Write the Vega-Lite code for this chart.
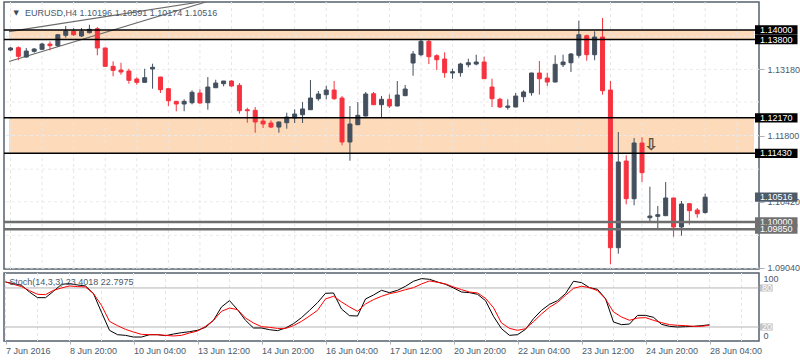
{
  "$schema": "https://vega.github.io/schema/vega-lite/v6.json",
  "background": "white",
  "padding": {"left": 2, "top": 0, "right": 0, "bottom": 0},
  "spacing": 4,
  "bounds": "flush",
  "config": {
    "view": {"stroke": "#56616d", "strokeWidth": 1.5},
    "font": "Liberation Sans",
    "axis": {"labelFont": "Liberation Sans", "labelFontSize": 9, "labelColor": "#4b596a", "domain": false, "grid": false, "tickColor": "#aab2bb", "title": null}
  },
  "datasets": {
    "candles": [
      {"t":0,"o":1.13583,"h":1.13646,"l":1.13562,"c":1.13625},
      {"t":1,"o":1.13631,"h":1.13660,"l":1.13369,"c":1.13452},
      {"t":2,"o":1.13437,"h":1.13625,"l":1.13423,"c":1.13562},
      {"t":3,"o":1.13556,"h":1.13625,"l":1.13527,"c":1.13604},
      {"t":4,"o":1.13598,"h":1.13735,"l":1.13590,"c":1.13708},
      {"t":5,"o":1.13708,"h":1.13764,"l":1.13577,"c":1.13673},
      {"t":6,"o":1.13673,"h":1.13910,"l":1.13646,"c":1.13902},
      {"t":7,"o":1.13890,"h":1.14083,"l":1.13840,"c":1.13979},
      {"t":8,"o":1.13973,"h":1.14042,"l":1.13875,"c":1.13902},
      {"t":9,"o":1.13875,"h":1.14042,"l":1.13854,"c":1.13973},
      {"t":10,"o":1.13944,"h":1.14110,"l":1.13931,"c":1.14015},
      {"t":11,"o":1.14027,"h":1.14063,"l":1.13473,"c":1.13625},
      {"t":12,"o":1.13625,"h":1.13635,"l":1.13230,"c":1.13243},
      {"t":13,"o":1.13243,"h":1.13348,"l":1.13035,"c":1.13160},
      {"t":14,"o":1.13166,"h":1.13318,"l":1.13068,"c":1.13125},
      {"t":15,"o":1.13145,"h":1.13193,"l":1.12881,"c":1.12952},
      {"t":16,"o":1.12979,"h":1.13014,"l":1.12860,"c":1.12910},
      {"t":17,"o":1.12910,"h":1.13193,"l":1.12905,"c":1.13006},
      {"t":18,"o":1.13187,"h":1.13298,"l":1.12777,"c":1.13223},
      {"t":19,"o":1.13020,"h":1.13025,"l":1.12687,"c":1.12756},
      {"t":20,"o":1.12777,"h":1.12780,"l":1.12416,"c":1.12526},
      {"t":21,"o":1.12514,"h":1.12520,"l":1.12306,"c":1.12458},
      {"t":22,"o":1.12458,"h":1.12556,"l":1.12306,"c":1.12514},
      {"t":23,"o":1.12485,"h":1.12743,"l":1.12451,"c":1.12702},
      {"t":24,"o":1.12687,"h":1.12764,"l":1.12464,"c":1.12479},
      {"t":25,"o":1.12485,"h":1.13020,"l":1.12339,"c":1.12812},
      {"t":26,"o":1.12797,"h":1.12964,"l":1.12795,"c":1.12895},
      {"t":27,"o":1.12881,"h":1.12940,"l":1.12827,"c":1.12937},
      {"t":28,"o":1.12937,"h":1.12952,"l":1.12818,"c":1.12833},
      {"t":29,"o":1.12847,"h":1.12895,"l":1.12256,"c":1.12318},
      {"t":30,"o":1.12339,"h":1.12381,"l":1.12068,"c":1.12318},
      {"t":31,"o":1.12326,"h":1.12395,"l":1.11860,"c":1.12083},
      {"t":32,"o":1.12103,"h":1.12166,"l":1.11958,"c":1.12041},
      {"t":33,"o":1.12062,"h":1.12118,"l":1.11958,"c":1.11978},
      {"t":34,"o":1.11978,"h":1.12090,"l":1.11860,"c":1.12083},
      {"t":35,"o":1.12068,"h":1.12276,"l":1.11943,"c":1.12187},
      {"t":36,"o":1.12166,"h":1.12347,"l":1.12062,"c":1.12249},
      {"t":37,"o":1.12235,"h":1.12499,"l":1.12062,"c":1.12354},
      {"t":38,"o":1.12339,"h":1.12958,"l":1.12335,"c":1.12583},
      {"t":39,"o":1.12568,"h":1.12729,"l":1.12526,"c":1.12666},
      {"t":40,"o":1.12652,"h":1.12839,"l":1.12556,"c":1.12749},
      {"t":41,"o":1.12749,"h":1.12937,"l":1.12547,"c":1.12568},
      {"t":42,"o":1.12583,"h":1.12624,"l":1.11597,"c":1.11666},
      {"t":43,"o":1.11666,"h":1.12416,"l":1.11276,"c":1.12041},
      {"t":44,"o":1.12026,"h":1.12499,"l":1.12020,"c":1.12222},
      {"t":45,"o":1.12208,"h":1.12708,"l":1.12200,"c":1.12666},
      {"t":46,"o":1.12672,"h":1.12708,"l":1.12438,"c":1.12443},
      {"t":47,"o":1.12443,"h":1.12624,"l":1.12187,"c":1.12556},
      {"t":48,"o":1.12556,"h":1.12660,"l":1.12374,"c":1.12416},
      {"t":49,"o":1.12416,"h":1.12937,"l":1.12410,"c":1.12645},
      {"t":50,"o":1.12631,"h":1.12854,"l":1.12625,"c":1.12770},
      {"t":51,"o":1.13312,"h":1.13562,"l":1.13048,"c":1.13500},
      {"t":52,"o":1.13485,"h":1.13792,"l":1.13452,"c":1.13764},
      {"t":53,"o":1.13764,"h":1.13792,"l":1.13291,"c":1.13444},
      {"t":54,"o":1.13464,"h":1.13494,"l":1.13166,"c":1.13381},
      {"t":55,"o":1.13396,"h":1.13535,"l":1.13006,"c":1.13110},
      {"t":56,"o":1.13104,"h":1.13193,"l":1.12985,"c":1.13131},
      {"t":57,"o":1.13110,"h":1.13318,"l":1.13027,"c":1.13291},
      {"t":58,"o":1.13277,"h":1.13402,"l":1.13223,"c":1.13318},
      {"t":59,"o":1.13291,"h":1.13485,"l":1.13264,"c":1.13333},
      {"t":60,"o":1.13333,"h":1.13444,"l":1.12980,"c":1.12985},
      {"t":61,"o":1.12812,"h":1.12985,"l":1.12395,"c":1.12568},
      {"t":62,"o":1.12556,"h":1.12589,"l":1.12374,"c":1.12395},
      {"t":63,"o":1.12389,"h":1.12556,"l":1.12339,"c":1.12416},
      {"t":64,"o":1.12395,"h":1.12687,"l":1.12390,"c":1.12624},
      {"t":65,"o":1.12610,"h":1.12743,"l":1.12499,"c":1.12708},
      {"t":66,"o":1.12693,"h":1.13110,"l":1.12631,"c":1.13104},
      {"t":67,"o":1.13104,"h":1.13354,"l":1.12652,"c":1.12985},
      {"t":68,"o":1.12999,"h":1.13110,"l":1.12833,"c":1.12916},
      {"t":69,"o":1.12916,"h":1.13473,"l":1.12910,"c":1.13285},
      {"t":70,"o":1.13277,"h":1.13485,"l":1.13229,"c":1.13333},
      {"t":71,"o":1.13318,"h":1.13521,"l":1.13125,"c":1.13500},
      {"t":72,"o":1.13473,"h":1.14194,"l":1.13423,"c":1.13902},
      {"t":73,"o":1.13881,"h":1.13902,"l":1.13360,"c":1.13485},
      {"t":74,"o":1.13485,"h":1.13973,"l":1.13369,"c":1.13854},
      {"t":75,"o":1.13854,"h":1.14250,"l":1.12652,"c":1.12735},
      {"t":76,"o":1.12749,"h":1.12937,"l":1.09117,"c":1.09463},
      {"t":77,"o":1.09463,"h":1.11874,"l":1.09338,"c":1.11249},
      {"t":78,"o":1.11270,"h":1.11389,"l":1.10367,"c":1.10484},
      {"t":79,"o":1.10484,"h":1.11749,"l":1.10346,"c":1.11645},
      {"t":80,"o":1.11645,"h":1.11764,"l":1.10832,"c":1.11026},
      {"t":81,"o":1.10088,"h":1.10734,"l":1.10019,"c":1.10123},
      {"t":82,"o":1.10117,"h":1.10332,"l":1.09846,"c":1.10151},
      {"t":83,"o":1.10130,"h":1.10832,"l":1.10125,"c":1.10499},
      {"t":84,"o":1.10499,"h":1.10505,"l":1.09692,"c":1.09894},
      {"t":85,"o":1.09894,"h":1.10436,"l":1.09713,"c":1.10374},
      {"t":86,"o":1.10380,"h":1.10394,"l":1.09942,"c":1.10234},
      {"t":87,"o":1.10248,"h":1.10290,"l":1.10088,"c":1.10171},
      {"t":88,"o":1.10196,"h":1.10591,"l":1.10174,"c":1.10516}
    ],
    "stoch": [
      {"t":0,"k":89.2,"d":89.2},{"t":1,"k":86.7,"d":85.6},{"t":2,"k":84.1,"d":82.1},{"t":3,"k":73.8,"d":75.9},
      {"t":4,"k":65.1,"d":70.3},{"t":5,"k":65.1,"d":69.7},{"t":6,"k":74.9,"d":76.4},{"t":7,"k":85.6,"d":80.0},
      {"t":8,"k":86.7,"d":83.1},{"t":9,"k":84.6,"d":82.1},{"t":10,"k":83.1,"d":81.5},{"t":11,"k":71.3,"d":71.3},
      {"t":12,"k":42.6,"d":53.3},{"t":13,"k":14.9,"d":28.7},{"t":14,"k":8.2,"d":22.1},{"t":15,"k":7.2,"d":16.4},
      {"t":16,"k":4.6,"d":12.3},{"t":17,"k":4.6,"d":8.7},{"t":18,"k":8.2,"d":8.2},{"t":19,"k":8.2,"d":8.2},
      {"t":20,"k":6.7,"d":7.2},{"t":21,"k":9.2,"d":6.2},{"t":22,"k":11.3,"d":7.2},{"t":23,"k":12.8,"d":10.8},
      {"t":24,"k":14.9,"d":13.8},{"t":25,"k":19.5,"d":21.0},{"t":26,"k":30.3,"d":30.3},{"t":27,"k":50.8,"d":44.1},
      {"t":28,"k":60.5,"d":49.2},{"t":29,"k":46.7,"d":46.7},{"t":30,"k":30.3,"d":33.8},{"t":31,"k":18.5,"d":26.2},
      {"t":32,"k":18.5,"d":20.5},{"t":33,"k":15.9,"d":19.5},{"t":34,"k":14.4,"d":17.9},{"t":35,"k":18.5,"d":17.9},
      {"t":36,"k":25.1,"d":22.1},{"t":37,"k":34.4,"d":28.7},{"t":38,"k":45.6,"d":36.9},{"t":39,"k":57.4,"d":45.6},
      {"t":40,"k":71.8,"d":63.1},{"t":41,"k":72.3,"d":67.2},{"t":42,"k":47.7,"d":58.5},{"t":43,"k":37.4,"d":50.8},
      {"t":44,"k":36.9,"d":44.1},{"t":45,"k":63.1,"d":55.4},{"t":46,"k":69.2,"d":62.1},{"t":47,"k":76.4,"d":67.2},
      {"t":48,"k":72.8,"d":71.3},{"t":49,"k":76.4,"d":73.8},{"t":50,"k":82.6,"d":77.4},{"t":51,"k":90.3,"d":80.5},
      {"t":52,"k":94.4,"d":86.2},{"t":53,"k":93.3,"d":90.8},{"t":54,"k":89.2,"d":88.7},{"t":55,"k":85.6,"d":86.2},
      {"t":56,"k":80.0,"d":81.5},{"t":57,"k":73.8,"d":77.4},{"t":58,"k":72.8,"d":73.8},{"t":59,"k":70.3,"d":72.3},
      {"t":60,"k":60.5,"d":64.1},{"t":61,"k":36.4,"d":49.7},{"t":62,"k":17.4,"d":26.2},{"t":63,"k":7.2,"d":17.9},
      {"t":64,"k":8.2,"d":14.9},{"t":65,"k":16.4,"d":17.4},{"t":66,"k":32.8,"d":28.2},{"t":67,"k":45.6,"d":40.0},
      {"t":68,"k":54.9,"d":50.3},{"t":69,"k":60.5,"d":57.9},{"t":70,"k":71.3,"d":68.7},{"t":71,"k":90.3,"d":79.5},
      {"t":72,"k":88.2,"d":82.6},{"t":73,"k":80.5,"d":80.5},{"t":74,"k":77.9,"d":75.9},{"t":75,"k":63.6,"d":63.1},
      {"t":76,"k":27.7,"d":43.1},{"t":77,"k":23.6,"d":35.4},{"t":78,"k":24.6,"d":30.3},{"t":79,"k":37.9,"d":33.8},
      {"t":80,"k":37.9,"d":34.4},{"t":81,"k":34.9,"d":30.3},{"t":82,"k":24.1,"d":26.7},{"t":83,"k":21.0,"d":23.6},
      {"t":84,"k":20.0,"d":22.6},{"t":85,"k":20.5,"d":22.1},{"t":86,"k":21.0,"d":21.0},{"t":87,"k":22.1,"d":21.0},
      {"t":88,"k":23.4018,"d":22.7975}
    ],
    "hgrid": [{"p":1.0904},{"p":1.0972},{"p":1.1042},{"p":1.111},{"p":1.118},{"p":1.125},{"p":1.1318},{"p":1.1387}],
    "vgrid": [{"t":0},{"t":4},{"t":8},{"t":12},{"t":16},{"t":20},{"t":24},{"t":28},{"t":32},{"t":36},{"t":40},{"t":44},{"t":48},{"t":52},{"t":56},{"t":60},{"t":64},{"t":68},{"t":72},{"t":76},{"t":80},{"t":84},{"t":88},{"t":92}],
    "zones": [{"lo":1.138,"hi":1.14},{"lo":1.1143,"hi":1.1217}],
    "levels": [{"p":1.14,"kind":"zone"},{"p":1.138,"kind":"zone"},{"p":1.1217,"kind":"zone"},{"p":1.1143,"kind":"zone"},{"p":1.1,"kind":"sr"},{"p":1.0985,"kind":"sr"}],
    "trend": [
      {"line":"upper","t":-0.1875,"p":1.13965},{"line":"upper","t":24.0,"p":1.14584},
      {"line":"lower","t":-0.1875,"p":1.13343},{"line":"lower","t":24.75,"p":1.14584}
    ],
    "tags": [
      {"p":1.14,"label":"1.14000","kind":"zone","grp":"a"},
      {"p":1.138,"label":"1.13800","kind":"zone","grp":"b"},
      {"p":1.1217,"label":"1.12170","kind":"zone","grp":"a"},
      {"p":1.1143,"label":"1.11430","kind":"zone","grp":"a"},
      {"p":1.10516,"label":"1.10516","kind":"price","grp":"a"},
      {"p":1.1,"label":"1.10000","kind":"sr","grp":"a"},
      {"p":1.0985,"label":"1.09850","kind":"sr","grp":"b"}
    ],
    "stags": [{"v":80,"label":"80"},{"v":20,"label":"20"}],
    "one": [{}]
  },
  "vconcat": [
    {
      "width": 755,
      "height": 267,
      "layer": [
        {
          "data": {"name": "zones"},
          "mark": {"type": "rect", "color": "#fddab9"},
          "encoding": {
            "x": {"datum": -0.1875, "type": "quantitative", "scale": {"domain": [-0.1875, 94.1875], "nice": false, "zero": false}, "axis": null},
            "x2": {"datum": 94.1875},
            "y": {"field": "hi", "type": "quantitative", "scale": {"domain": [1.09019, 1.14584], "nice": false, "zero": false},
                  "axis": {"orient": "right", "values": [1.0904, 1.0972, 1.1042, 1.111, 1.118, 1.125, 1.1318, 1.1387], "format": ".5f", "tickSize": 5, "labelPadding": 3, "title": null}},
            "y2": {"field": "lo"}
          }
        },
        {
          "data": {"name": "vgrid"},
          "mark": {"type": "rule", "color": "#e6e6e6", "strokeDash": [3, 3], "strokeWidth": 1},
          "encoding": {"x": {"field": "t", "type": "quantitative", "axis": null}}
        },
        {
          "data": {"name": "hgrid"},
          "mark": {"type": "rule", "color": "#ebebeb", "strokeDash": [3, 3], "strokeWidth": 1},
          "encoding": {"y": {"field": "p", "type": "quantitative"}}
        },
        {
          "data": {"name": "trend"},
          "mark": {"type": "line", "color": "#6a6a6a", "strokeWidth": 1.2, "clip": true},
          "encoding": {
            "x": {"field": "t", "type": "quantitative", "axis": null},
            "y": {"field": "p", "type": "quantitative"},
            "detail": {"field": "line"}
          }
        },
        {
          "data": {"name": "candles"},
          "mark": {"type": "rule", "strokeWidth": 1},
          "encoding": {
            "x": {"field": "t", "type": "quantitative", "axis": null},
            "y": {"field": "l", "type": "quantitative"},
            "y2": {"field": "h"},
            "color": {"condition": {"test": "datum.c >= datum.o", "value": "#434f5d"}, "value": "#f6323e"}
          }
        },
        {
          "data": {"name": "candles"},
          "mark": {"type": "bar", "width": 4, "strokeWidth": 1},
          "encoding": {
            "x": {"field": "t", "type": "quantitative", "axis": null},
            "y": {"field": "o", "type": "quantitative"},
            "y2": {"field": "c"},
            "fill": {"condition": {"test": "datum.c >= datum.o", "value": "#434f5d"}, "value": "#f6323e"},
            "stroke": {"condition": {"test": "datum.c >= datum.o", "value": "#434f5d"}, "value": "#f6323e"}
          }
        },
        {
          "data": {"name": "levels"},
          "transform": [{"filter": "datum.kind === 'zone'"}],
          "mark": {"type": "rule", "color": "#000000", "strokeWidth": 1.5},
          "encoding": {"y": {"field": "p", "type": "quantitative"}}
        },
        {
          "data": {"name": "levels"},
          "transform": [{"filter": "datum.kind === 'sr'"}],
          "mark": {"type": "rule", "color": "#6e6e6e", "strokeWidth": 2.5},
          "encoding": {"y": {"field": "p", "type": "quantitative"}}
        },
        {
          "data": {"name": "one"},
          "mark": {"type": "text", "text": "⇩", "fontSize": 16, "color": "#f0a12c", "stroke": "#3a3a3a", "strokeWidth": 0.5, "font": "DejaVu Sans"},
          "encoding": {"x": {"datum": 81.125, "type": "quantitative", "axis": null}, "y": {"datum": 1.11603, "type": "quantitative"}}
        },
        {
          "data": {"name": "one"},
          "mark": {"type": "text", "text": "▼", "fontSize": 7, "color": "#3f4a57", "font": "DejaVu Sans"},
          "encoding": {"x": {"datum": 0.7125, "type": "quantitative", "axis": null}, "y": {"datum": 1.14359, "type": "quantitative"}}
        },
        {
          "data": {"name": "one"},
          "mark": {"type": "text", "text": "EURUSD,H4   1.10196 1.10591 1.10174 1.10516", "fontSize": 9, "color": "#4b596a", "align": "left", "baseline": "middle"},
          "encoding": {"x": {"datum": 1.85, "type": "quantitative", "axis": null}, "y": {"datum": 1.14359, "type": "quantitative"}}
        },
        {
          "data": {"name": "tags"},
          "transform": [{"filter": "datum.grp === 'a'"}, {"calculate": "datum.p + 0.00097", "as": "top"}, {"calculate": "datum.p - 0.00097", "as": "bot"}],
          "mark": {"type": "rect"},
          "encoding": {
            "x": {"datum": 94.3125, "type": "quantitative", "axis": null},
            "x2": {"datum": 99.7},
            "y": {"field": "top", "type": "quantitative"},
            "y2": {"field": "bot"},
            "fill": {"field": "kind", "type": "nominal", "scale": {"domain": ["zone", "price", "sr"], "range": ["#000000", "#4d5a68", "#707070"]}, "legend": null}
          }
        },
        {
          "data": {"name": "tags"},
          "transform": [{"filter": "datum.grp === 'a'"}],
          "mark": {"type": "text", "color": "#ffffff", "fontSize": 9, "align": "left", "baseline": "middle"},
          "encoding": {
            "x": {"datum": 94.9375, "type": "quantitative", "axis": null},
            "y": {"field": "p", "type": "quantitative"},
            "text": {"field": "label"}
          }
        },
        {
          "data": {"name": "tags"},
          "transform": [{"filter": "datum.grp === 'b'"}, {"calculate": "datum.p + 0.00097", "as": "top"}, {"calculate": "datum.p - 0.00097", "as": "bot"}],
          "mark": {"type": "rect"},
          "encoding": {
            "x": {"datum": 94.3125, "type": "quantitative", "axis": null},
            "x2": {"datum": 99.7},
            "y": {"field": "top", "type": "quantitative"},
            "y2": {"field": "bot"},
            "fill": {"field": "kind", "type": "nominal", "scale": {"domain": ["zone", "price", "sr"], "range": ["#000000", "#4d5a68", "#707070"]}, "legend": null}
          }
        },
        {
          "data": {"name": "tags"},
          "transform": [{"filter": "datum.grp === 'b'"}],
          "mark": {"type": "text", "color": "#ffffff", "fontSize": 9, "align": "left", "baseline": "middle"},
          "encoding": {
            "x": {"datum": 94.9375, "type": "quantitative", "axis": null},
            "y": {"field": "p", "type": "quantitative"},
            "text": {"field": "label"}
          }
        }
      ]
    },
    {
      "width": 755,
      "height": 68,
      "layer": [
        {
          "data": {"name": "vgrid"},
          "mark": {"type": "rule", "color": "#e6e6e6", "strokeDash": [3, 3], "strokeWidth": 1},
          "encoding": {"x": {"field": "t", "type": "quantitative", "scale": {"domain": [-0.1875, 94.1875], "nice": false, "zero": false},
            "axis": {"orient": "bottom", "values": [0, 8, 16, 24, 32, 40, 48, 56, 64, 72, 80, 88],
              "labelExpr": "['7 Jun 2016','8 Jun 20:00','10 Jun 04:00','13 Jun 12:00','14 Jun 20:00','16 Jun 04:00','17 Jun 12:00','20 Jun 20:00','22 Jun 04:00','23 Jun 12:00','24 Jun 20:00','28 Jun 04:00'][round(datum.value/8)]",
              "labelAlign": "left", "labelPadding": 2, "tickSize": 3, "labelOverlap": false, "labelFlush": false, "title": null}}}
        },
        {
          "data": {"name": "stags"},
          "mark": {"type": "rule", "color": "#b4b4b4", "strokeWidth": 1},
          "encoding": {"y": {"field": "v", "type": "quantitative", "scale": {"domain": [-1.5, 103], "nice": false, "zero": false},
            "axis": {"orient": "right", "values": [0, 100], "tickSize": 0, "labelPadding": 4, "title": null,
              "labelBaseline": {"condition": {"test": "datum.value > 50", "value": "top"}, "value": "bottom"}}}}
        },
        {
          "data": {"name": "stoch"},
          "mark": {"type": "line", "color": "#000000", "strokeWidth": 1},
          "encoding": {"x": {"field": "t", "type": "quantitative"}, "y": {"field": "k", "type": "quantitative"}}
        },
        {
          "data": {"name": "stoch"},
          "mark": {"type": "line", "color": "#ff0000", "strokeWidth": 1},
          "encoding": {"x": {"field": "t", "type": "quantitative"}, "y": {"field": "d", "type": "quantitative"}}
        },
        {
          "data": {"name": "one"},
          "mark": {"type": "text", "text": "Stoch(14,3,3) 23.4018 22.7975", "fontSize": 9, "color": "#4b596a", "align": "left", "baseline": "middle"},
          "encoding": {"x": {"datum": 0.475, "type": "quantitative"}, "y": {"datum": 89.2, "type": "quantitative"}}
        },
        {
          "data": {"name": "stags"},
          "transform": [{"calculate": "datum.v + 5.5", "as": "top"}, {"calculate": "datum.v - 5.5", "as": "bot"}],
          "mark": {"type": "rect", "color": "#c4c4c4"},
          "encoding": {
            "x": {"datum": 94.3125, "type": "quantitative"},
            "x2": {"datum": 95.9},
            "y": {"field": "top", "type": "quantitative"},
            "y2": {"field": "bot"}
          }
        },
        {
          "data": {"name": "stags"},
          "mark": {"type": "text", "color": "#ffffff", "fontSize": 9, "align": "left", "baseline": "middle"},
          "encoding": {
            "x": {"datum": 94.55, "type": "quantitative"},
            "y": {"field": "v", "type": "quantitative"},
            "text": {"field": "label"}
          }
        }
      ]
    }
  ]
}
